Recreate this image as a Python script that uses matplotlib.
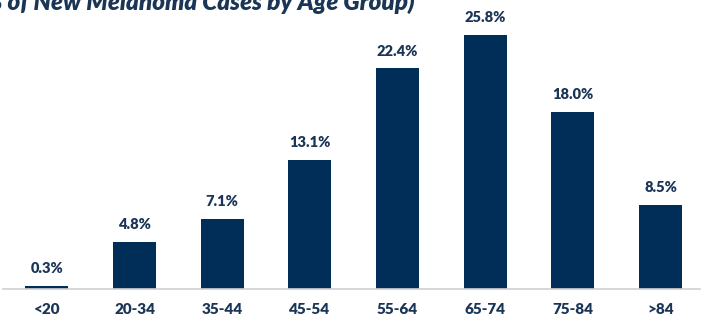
import matplotlib.pyplot as plt

plt.rcParams['font.family'] = ['Lato', 'DejaVu Sans']

age_groups = ["<20", "20-34", "35-44", "45-54", "55-64", "65-74", "75-84", ">84"]
pct_cases = [0.3, 4.8, 7.1, 13.1, 22.4, 25.8, 18.0, 8.5]

navy = "#002E58"
text_col = "#1B3556"

fig = plt.figure(figsize=(7.01, 3.18), dpi=100)
ax = fig.add_axes([3 / 701, 29 / 318, 697 / 701, 289 / 318])

x = range(len(age_groups))
bars = ax.bar(x, pct_cases, width=0.49, color=navy)
for b, v in zip(bars, pct_cases):
    ax.text(b.get_x() + b.get_width() / 2, v + 1.1, f"{v:.1f}%",
            ha="center", va="bottom", fontsize=10.5, fontweight="heavy", color=text_col)

ax.set_xlim(-0.5, 7.45)
ax.set_ylim(0, 29.34)
ax.set_xticks(list(x))
ax.set_xticklabels(age_groups, fontsize=11, fontweight="heavy", color=text_col)
ax.tick_params(axis="x", length=0, pad=10)
ax.set_yticks([])
for s in ["top", "right", "left"]:
    ax.spines[s].set_visible(False)
ax.spines["bottom"].set_color("#D0D0D0")
ax.spines["bottom"].set_linewidth(1.2)

fig.text(415 / 701, 1 - 10 / 318, "(% of New Melanoma Cases by Age Group)",
         ha="right", va="baseline", fontsize=17.5, fontweight="heavy",
         fontstyle="italic", color=text_col)

fig.savefig("out.png", dpi=100)
